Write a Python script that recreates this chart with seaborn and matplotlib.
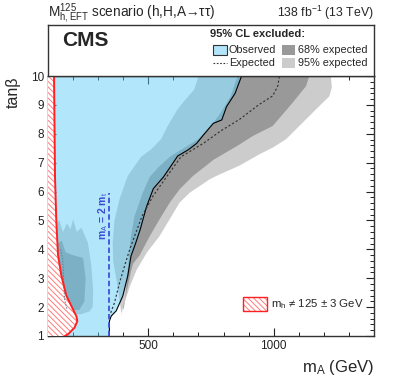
import numpy as np
import pandas as pd
import matplotlib
matplotlib.use("Agg")
import matplotlib.pyplot as plt
from matplotlib.patches import Rectangle
from matplotlib.lines import Line2D
from matplotlib.ticker import MultipleLocator
import seaborn as sns

# observed exclusion contour (mA in GeV, tan beta)
obs_ma = [345, 345, 352, 372, 398, 418, 431, 447, 467, 493, 520, 560, 590, 617, 660, 693, 720, 759, 793, 812, 846, 872]
obs_tb = [1.0, 1.52, 1.69, 1.87, 2.38, 3.08, 3.77, 4.15, 4.67, 5.48, 6.1, 6.5, 6.88, 7.23, 7.45, 7.67, 7.96, 8.36, 8.48, 8.94, 9.4, 10.0]

# median expected contour
exp_ma = [350, 365, 387, 408, 426, 447, 475, 519, 572, 630, 723, 789, 864, 943, 996, 1016, 1023]
exp_tb = [1.8, 2.15, 2.9, 3.5, 4.0, 4.5, 5.15, 5.85, 6.5, 7.2, 7.69, 8.1, 8.5, 9.02, 9.31, 9.65, 10.0]
exp_low_ma = [150, 158, 160, 166, 175]
exp_low_tb = [4.0, 3.7, 3.4, 2.27, 1.95]

# expected band edges
m2s_ma = [392, 383, 372, 360, 358, 365, 385, 418, 471, 510, 551, 577, 617, 640, 684, 700]
m2s_tb = [1.8, 2.4, 3.0, 3.6, 4.2, 5.0, 5.73, 6.54, 7.2, 7.45, 7.81, 8.27, 8.85, 9.1, 9.54, 10.0]
m1s_ma = [402, 410, 418, 425, 431, 445, 478, 505, 545, 590, 650, 697, 750, 789, 829, 856]
m1s_tb = [1.9, 2.5, 3.3, 4.0, 4.46, 5.15, 5.96, 6.5, 6.88, 7.23, 7.55, 7.8, 8.27, 8.73, 9.31, 10.0]
p1s_ma = [400, 415, 430, 439, 466, 506, 545, 585, 625, 678, 760, 864, 916, 996, 1076, 1129, 1142]
p1s_tb = [2.0, 2.6, 3.2, 3.5, 3.8, 4.46, 5.04, 5.61, 6.08, 6.54, 7.1, 7.63, 7.92, 8.27, 9.08, 9.65, 10.0]
p2s_ma = [390, 400, 413, 426, 453, 495, 545, 585, 625, 665, 705, 744, 771, 864, 943, 996, 1049, 1115, 1182, 1222, 1232, 1228]
p2s_tb = [1.7, 2.0, 2.36, 2.71, 3.28, 3.9, 4.46, 5.04, 5.62, 5.96, 6.19, 6.42, 6.54, 6.9, 7.29, 7.52, 7.81, 8.38, 8.96, 9.3, 9.6, 10.0]

# low-mA island of the expected bands
isl95_ma = [100, 130, 145, 160, 175, 190, 200, 215, 233, 259, 272, 280, 278, 265, 230, 180, 100]
isl95_tb = [4.9, 4.9, 5.0, 4.6, 4.9, 4.7, 5.04, 4.6, 4.75, 4.23, 3.5, 2.6, 2.0, 1.85, 1.75, 1.75, 1.8]
isl68_ma = [100, 140, 155, 170, 200, 240, 250, 245, 225, 185, 160, 100]
isl68_tb = [4.2, 4.2, 4.3, 3.9, 3.8, 3.7, 3.0, 2.2, 1.9, 1.9, 2.1, 2.1]

# m_h != 125 +- 3 GeV boundary
mh_ma = [167, 180, 206, 217, 213, 193, 173, 153, 140, 133, 128, 124]
mh_tb = [1.0, 1.06, 1.29, 1.52, 1.69, 2.04, 2.4, 3.1, 3.8, 5.0, 6.5, 10.0]

m_top = 172.5
x_lo, x_hi = 100, 1400
y_lo, y_hi = 1, 10

sns.set_theme(style="ticks")
plt.rcParams["font.family"] = ["Liberation Sans", "DejaVu Sans"]
plt.rcParams["mathtext.fontset"] = "custom"
plt.rcParams["mathtext.rm"] = "Liberation Sans"
plt.rcParams["mathtext.it"] = "Liberation Sans:italic"
plt.rcParams["mathtext.bf"] = "Liberation Sans:bold"
plt.rcParams["hatch.linewidth"] = 0.7

GRAY95 = "#cccccc"
GRAY68 = "#999999"
OBS_C = "#5ecbf7"
OBS_A = 0.48
LEG_BLUE = "#b2e4fa"
RED = "#ff2020"
HATCH = "\\" * 6

fig = plt.figure(figsize=(3.99, 3.83), dpi=100)
ax = fig.add_axes([48 / 399, 1 - 336 / 383, 326 / 399, 260 / 383])


def band(lo_m, lo_t, hi_m, hi_t):
    xs = list(lo_m) + [x for x in reversed(hi_m)]
    ys = list(lo_t) + [y for y in reversed(hi_t)]
    return xs, ys


bx, by = band(m2s_ma, m2s_tb, p2s_ma, p2s_tb)
ax.fill(bx, by, color=GRAY95, lw=0, zorder=1)
ax.fill(isl95_ma, isl95_tb, color=GRAY95, lw=0, zorder=1)
bx, by = band(m1s_ma, m1s_tb, p1s_ma, p1s_tb)
ax.fill(bx, by, color=GRAY68, lw=0, zorder=1.1)
ax.fill(isl68_ma, isl68_tb, color=GRAY68, lw=0, zorder=1.1)

# observed excluded region
ox = [x_lo] + obs_ma + [x_lo]
oy = [y_lo] + obs_tb + [y_hi]
ax.fill(ox, oy, color=OBS_C, alpha=OBS_A, lw=0, zorder=2)

obs = pd.DataFrame({"mA": obs_ma, "tanb": obs_tb})
exp = pd.DataFrame({"mA": exp_ma, "tanb": exp_tb})
exp_low = pd.DataFrame({"mA": exp_low_ma, "tanb": exp_low_tb})
sns.lineplot(data=obs, x="mA", y="tanb", sort=False, estimator=None, color="black", lw=0.8, ax=ax, zorder=4)
sns.lineplot(data=exp, x="mA", y="tanb", sort=False, estimator=None, color="#333333", lw=0.85,
             ax=ax, zorder=4).lines[-1].set_dashes([1.8, 1.8])
sns.lineplot(data=exp_low, x="mA", y="tanb", sort=False, estimator=None, color="#5a7f90", lw=0.7,
             ax=ax, zorder=4).lines[-1].set_dashes([1.5, 1.5])

# m_h hatched region
ax.fill_betweenx(mh_tb, x_lo, mh_ma, facecolor="white", edgecolor="#ff7a7a", hatch=HATCH, lw=0, zorder=3)
mh = pd.DataFrame({"mA": mh_ma, "tanb": mh_tb})
sns.lineplot(data=mh, x="mA", y="tanb", sort=False, estimator=None, color=RED, lw=1.4, ax=ax, zorder=4)

# mA = 2 mt
ax.axvline(2 * m_top, ymin=0, ymax=(5.95 - y_lo) / (y_hi - y_lo), color="#4050d8", ls=(0, (3, 1.6)), lw=1.3, zorder=5)
ax.text(2 * m_top - 25, 5.15, r"m$_\mathrm{A}$ = 2 m$_\mathrm{t}$", rotation=90, color="#3c4ad0",
        fontsize=7.5, fontweight="bold", ha="center", va="center", zorder=5)

ax.set_xlim(x_lo, x_hi)
ax.set_ylim(y_lo, y_hi)
ax.xaxis.set_major_locator(MultipleLocator(500))
ax.xaxis.set_minor_locator(MultipleLocator(100))
ax.yaxis.set_major_locator(MultipleLocator(1))
ax.yaxis.set_minor_locator(MultipleLocator(0.2))
ax.tick_params(which="both", direction="in", top=True, right=True, labelsize=8.5, colors="#222222", pad=3)
ax.tick_params(which="major", length=6, width=0.8)
ax.tick_params(which="minor", length=3, width=0.7)
for s in ax.spines.values():
    s.set_linewidth(1.0)
    s.set_color("#333333")
ax.set_xlabel(r"m$_\mathrm{A}$ (GeV)", fontsize=12, ha="right", x=1.0, labelpad=4)
ax.set_ylabel("tanβ", fontsize=11.5, ha="right", y=1.0, labelpad=7)

# m_h legend inside the axes
ax.add_patch(Rectangle((0.598, 0.096), 0.073, 0.054, transform=ax.transAxes, facecolor="white",
                       edgecolor="#ff7a7a", hatch=HATCH, lw=0, zorder=6))
ax.add_patch(Rectangle((0.598, 0.096), 0.073, 0.054, transform=ax.transAxes, facecolor="none",
                       edgecolor=RED, lw=1.0, zorder=6))
ax.text(0.685, 0.123, r"m$_\mathrm{h}$ ≠ 125 ± 3 GeV", transform=ax.transAxes, fontsize=8.2,
        ha="left", va="center", zorder=6)

# header box with legend
lax = fig.add_axes([48 / 399, 1 - 76 / 383, 326 / 399, 51 / 383])
lax.set_xlim(0, 1)
lax.set_ylim(0, 1)
lax.set_xticks([])
lax.set_yticks([])
for s in lax.spines.values():
    s.set_linewidth(1.0)
    s.set_color("#333333")
lax.text(0.043, 0.70, "CMS", fontsize=15, fontweight="bold", ha="left", va="center")
lax.text(0.497, 0.83, "95% CL excluded:", fontsize=8, fontweight="bold", ha="left", va="center")
lax.add_patch(Rectangle((0.506, 0.41), 0.043, 0.2, facecolor=LEG_BLUE, edgecolor="#333333", lw=0.8))
lax.text(0.555, 0.51, "Observed", fontsize=7.8, ha="left", va="center")
lax.add_patch(Rectangle((0.718, 0.41), 0.04, 0.2, facecolor=GRAY68, edgecolor="none"))
lax.text(0.767, 0.51, "68% expected", fontsize=7.8, ha="left", va="center")
lax.add_line(Line2D([0.506, 0.549], [0.255, 0.255], color="#333333", lw=0.8, dashes=[1.5, 1.5]))
lax.text(0.555, 0.255, "Expected", fontsize=7.8, ha="left", va="center")
lax.add_patch(Rectangle((0.718, 0.155), 0.04, 0.2, facecolor=GRAY95, edgecolor="none"))
lax.text(0.767, 0.255, "95% expected", fontsize=7.8, ha="left", va="center")

fig.text(48 / 399, 1 - 17 / 383, r"$\mathrm{M}^{125}_{\mathrm{h,EFT}}$ scenario (h,H,A→ττ)", fontsize=9.8,
         ha="left", va="baseline")
fig.text(374 / 399, 1 - 17 / 383, r"138 fb$^{-1}$ (13 TeV)", fontsize=8.8, ha="right", va="baseline")

fig.savefig("out.png", dpi=100)
